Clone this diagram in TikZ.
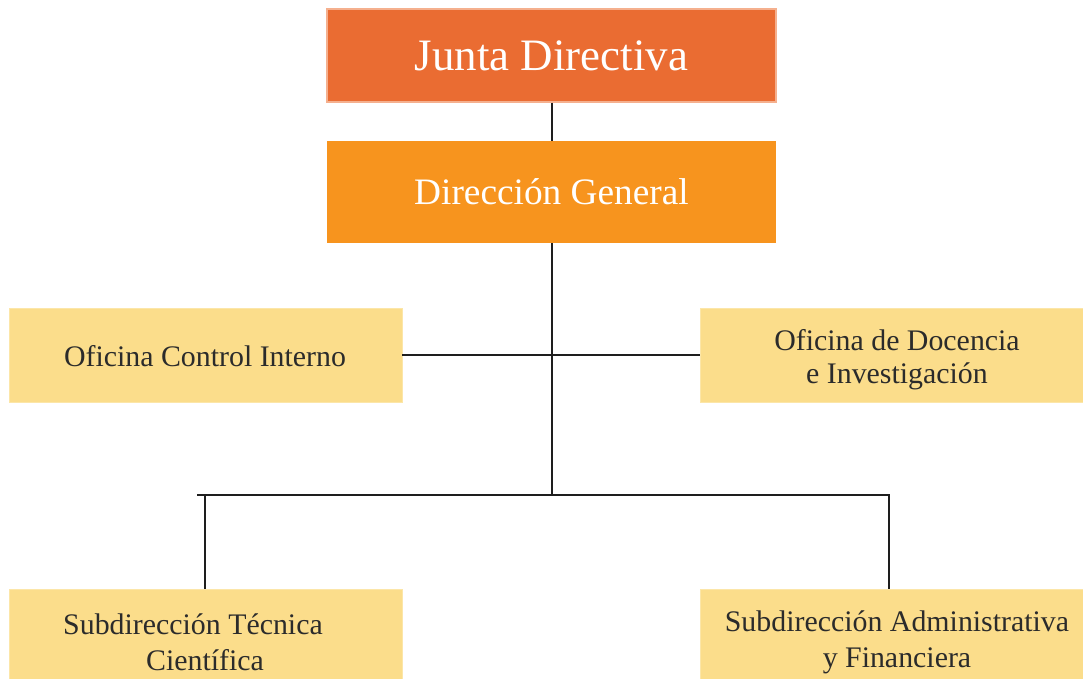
\documentclass[tikz,border=0pt]{standalone}
\usepackage{fontspec}
\setmainfont{Liberation Serif}
\definecolor{juntac}{HTML}{EA6C32}
\definecolor{juntab}{HTML}{F5B08E}
\definecolor{direc}{HTML}{F7941E}
\definecolor{amar}{HTML}{FBDD8B}
\definecolor{amarb}{HTML}{FCE6A8}
\definecolor{txt}{HTML}{2B2B2B}
\definecolor{linec}{HTML}{1E1E1E}
\begin{document}
\begin{tikzpicture}[x=0.75pt,y=-0.75pt,
  topbox/.style={fill=juntac,draw=juntab,line width=0.8pt,text=white,font=\fontsize{33.7}{40}\selectfont,minimum width=336.75pt,minimum height=69.75pt,inner sep=0pt},
  dirbox/.style={fill=direc,text=white,font=\fontsize{28}{33}\selectfont,minimum width=336.75pt,minimum height=76.5pt,inner sep=0pt},
  unitbox/.style={fill=amar,draw=amarb,line width=0.6pt,minimum width=294.75pt,minimum height=70.5pt,inner sep=0pt},
  unittext/.style={text=txt,align=center,inner sep=0pt},
  conn/.style={draw=linec,line width=1.5pt}]
\useasboundingbox (0,0) rectangle (1083,679);
\clip (0,0) rectangle (1083,679);
\fill[white] (0,0) rectangle (1083,679);
\node[topbox] (junta) at (551.5,55.5) {Junta Directiva};
\node[dirbox] (dir) at (551.5,192) {Dirección General};
\node[unitbox] (oci) at (205.5,355) {};
\node[unitbox,minimum width=287.25pt] (odi) at (892,355) {};
\node[unitbox] (stc) at (205.5,636) {};
\node[unitbox,minimum width=287.25pt] (saf) at (892,636) {};
\node[unittext,font=\fontsize{22.4}{26}\selectfont] (ocit) at (205,356) {Oficina Control Interno};
\node[unittext,font=\fontsize{22.4}{24.8}\selectfont] (odit) at (897,360) {Oficina de Docencia\\e Investigación};
\node[unittext,font=\fontsize{22.4}{27}\selectfont] (stct) at (205,642) {Subdirección Técnica\hspace*{18pt}\\Científica};
\node[unittext,font=\fontsize{22.4}{27}\selectfont] (saft) at (897,642) {Subdirección Administrativa\\y Financiera};
\coordinate (hub) at (552,495);
\coordinate (lend) at (197,495);
\coordinate (lcorner) at (205,495);
\coordinate (rcorner) at (889,495);
\draw[conn] (junta.south -| 552,0) -- (dir.north -| 552,0);
\draw[conn] (dir.south -| 552,0) -- (hub);
\draw[conn] (oci.east) -- (odi.west);
\draw[conn] (lend) -- (rcorner) -- (rcorner |- saf.north);
\draw[conn] (lcorner) -- (lcorner |- stc.north);
\end{tikzpicture}
\end{document}
